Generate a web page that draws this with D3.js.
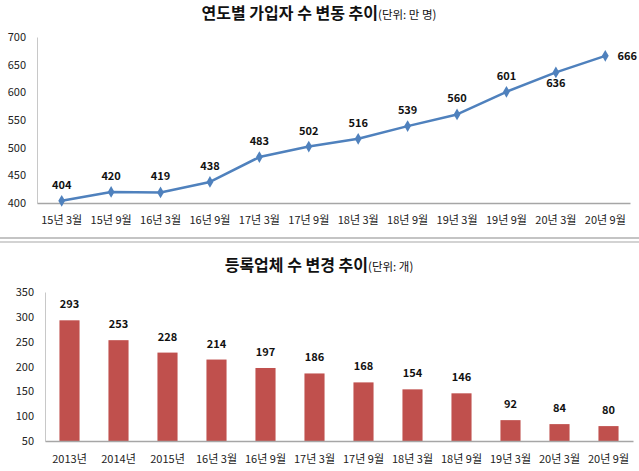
<!DOCTYPE html>
<html><head><meta charset="utf-8">
<script src="https://cdn.jsdelivr.net/npm/d3@7"></script>
<style>
html,body{margin:0;padding:0;background:#fff;}
text{font-family:"Noto Sans CJK KR","Noto Sans",sans-serif;}
</style></head>
<body><svg id="c" width="639" height="471"></svg>
<script>
const periodsTop = ['15년 3월','15년 9월','16년 3월','16년 9월','17년 3월','17년 9월','18년 3월','18년 9월','19년 3월','19년 9월','20년 3월','20년 9월'];
const subscribers = [404,420,419,438,483,502,516,539,560,601,636,666];
const topTicks = [400,450,500,550,600,650,700];

const periodsBottom = ['2013년','2014년','2015년','16년 3월','16년 9월','17년 3월','17년 9월','18년 3월','18년 9월','19년 3월','20년 3월','20년 9월'];
const companies = [293,253,228,214,197,186,168,154,146,92,84,80];
const bottomTicks = [50,100,150,200,250,300,350];

const svg = d3.select('#c');

// Titles
function title(y, main, unit){
  const t = svg.append('text').attr('x',319).attr('y',y).attr('text-anchor','middle');
  t.append('tspan').text(main).attr('font-size',16).attr('font-weight','bold').attr('fill','#111');
  t.append('tspan').text(unit).attr('font-size',11.5).attr('fill','#111').attr('font-stretch','condensed');
}
title(19,'연도별 가입자 수 변동 추이','(단위: 만 명)');
title(271,'등록업체 수 변경 추이','(단위: 개)');

// separator
svg.append('line').attr('x1',0).attr('x2',639).attr('y1',238).attr('y2',238).attr('stroke','#c4c4c4').attr('stroke-width',2);
svg.append('line').attr('x1',0).attr('x2',639).attr('y1',242).attr('y2',242).attr('stroke','#c4c4c4').attr('stroke-width',1.5);

// ---- Top line chart ----
const xT = d3.scaleBand().domain(periodsTop).range([37,630]);
const yT = d3.scaleLinear().domain([400,700]).range([203,37]);

const gyT = svg.append('g').attr('transform','translate(37,0)')
  .call(d3.axisLeft(yT).tickValues(topTicks).tickSize(0).tickPadding(11));
gyT.select('.domain').attr('stroke','#c8c8c8');
gyT.selectAll('text').attr('font-size',11).attr('fill','#222').style('font-family','"Noto Sans CJK KR","Noto Sans",sans-serif');

const gxT = svg.append('g').attr('transform','translate(0,203)')
  .call(d3.axisBottom(xT).tickSize(0).tickPadding(13));
gxT.select('.domain').attr('stroke','#a6a6a6').attr('stroke-width',1.5);
gxT.selectAll('text').attr('font-size',11).attr('fill','#222').style('font-family','"Noto Sans CJK KR","Noto Sans",sans-serif');

const cx = d => xT(d) + xT.bandwidth()/2;
svg.append('path').datum(subscribers)
  .attr('fill','none').attr('stroke','#4F81BD').attr('stroke-width',2.5).attr('stroke-linejoin','round')
  .attr('d', d3.line().x((d,i)=>cx(periodsTop[i])).y(d=>yT(d)));
svg.selectAll('.mk').data(subscribers).enter().append('path')
  .attr('d', d3.symbol().type(d3.symbolDiamond).size(40))
  .attr('transform',(d,i)=>`translate(${cx(periodsTop[i])},${yT(d)})`)
  .attr('fill','#4F81BD');
svg.selectAll('.lbT').data(subscribers).enter().append('text')
  .attr('x',(d,i)=> i===11 ? cx(periodsTop[i])+22 : cx(periodsTop[i]))
  .attr('y',(d,i)=> i===10 ? yT(d)+15 : (i===11 ? yT(d)+4 : yT(d)-12))
  .attr('text-anchor','middle').attr('font-size',11).attr('font-weight','bold').attr('fill','#111')
  .text(d=>d);

// ---- Bottom bar chart ----
const xB = d3.scaleBand().domain(periodsBottom).range([45,633]).paddingInner(0.59).paddingOuter(0.295);
const yB = d3.scaleLinear().domain([50,350]).range([441,292]);

const gyB = svg.append('g').attr('transform','translate(45,0)')
  .call(d3.axisLeft(yB).tickValues(bottomTicks).tickSize(0).tickPadding(11));
gyB.select('.domain').attr('stroke','#c8c8c8');
gyB.selectAll('text').attr('font-size',11).attr('fill','#222').style('font-family','"Noto Sans CJK KR","Noto Sans",sans-serif');

svg.selectAll('.bar').data(companies).enter().append('rect')
  .attr('x',(d,i)=>xB(periodsBottom[i])).attr('width',xB.bandwidth())
  .attr('y',d=>yB(d)).attr('height',d=>yB(50)-yB(d))
  .attr('fill','#C0504D');

const gxB = svg.append('g').attr('transform','translate(0,441)')
  .call(d3.axisBottom(xB).tickSize(0).tickPadding(14));
gxB.select('.domain').attr('stroke','#a6a6a6').attr('stroke-width',1.5);
gxB.selectAll('text').attr('font-size',11).attr('fill','#222').style('font-family','"Noto Sans CJK KR","Noto Sans",sans-serif');

svg.selectAll('.lbB').data(companies).enter().append('text')
  .attr('x',(d,i)=>xB(periodsBottom[i])+xB.bandwidth()/2)
  .attr('y',d=>yB(d)-12)
  .attr('text-anchor','middle').attr('font-size',11).attr('font-weight','bold').attr('fill','#111')
  .text(d=>d);
</script></body></html>
